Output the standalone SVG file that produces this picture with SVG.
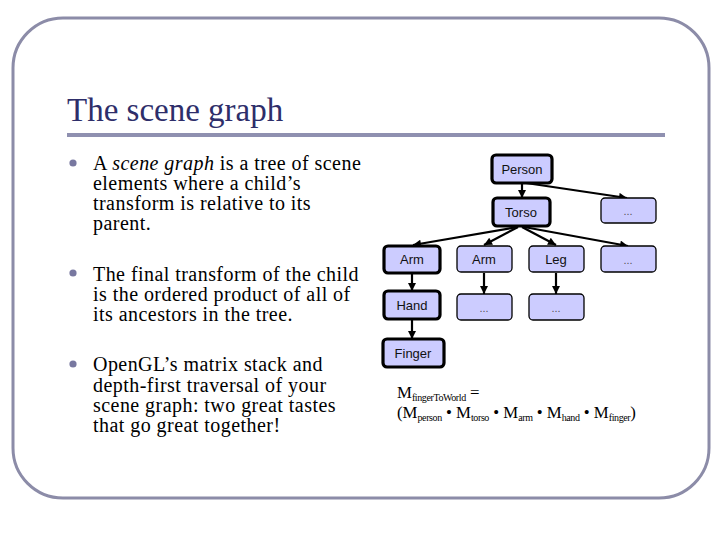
<svg xmlns="http://www.w3.org/2000/svg" width="720" height="540" viewBox="0 0 720 540">
<defs>
<marker id="ah" viewBox="0 0 10 10" refX="10" refY="5" markerWidth="9" markerHeight="8" markerUnits="userSpaceOnUse" orient="auto">
<path d="M0,0 L10,5 L0,10 z" fill="#000"/>
</marker>
<style>
.frame{fill:#fff;stroke:#8c8ca8;stroke-width:3}
.title{font-family:"Liberation Serif",serif;font-size:33px;fill:#2e2e6a}
.body{font-family:"Liberation Serif",serif;font-size:20px;letter-spacing:0.45px;fill:#000}
.dot{fill:#7878a0}
.box{fill:#ccccff;stroke:#000;stroke-width:1.3}
.thick{stroke-width:3.2}
.lbl{font-family:"Liberation Sans",sans-serif;font-size:13px;fill:#111;text-anchor:middle}
.ell{font-family:"Liberation Sans",sans-serif;font-size:11px;fill:#555;text-anchor:middle}
.edge{stroke:#000;stroke-width:2.2;fill:none;marker-end:url(#ah)}
.math{font-family:"Liberation Serif",serif;font-size:16.8px;fill:#000}
.sub{font-size:10px;letter-spacing:-0.4px}
</style>
</defs>
<rect width="720" height="540" fill="#fff"/>
<rect class="frame" x="13" y="18" width="696" height="480" rx="50" ry="50"/>
<text class="title" x="67" y="121">The scene graph</text>
<rect x="67" y="133" width="598" height="4" fill="#8f90b0"/>

<g id="bullets">
<circle class="dot" cx="73" cy="163" r="3.6"/>
<circle class="dot" cx="73" cy="273" r="3.6"/>
<circle class="dot" cx="73" cy="364" r="3.6"/>
<text class="body" x="93" y="170">A <tspan font-style="italic">scene graph</tspan> is a tree of scene</text>
<text class="body" x="93" y="190">elements where a child’s</text>
<text class="body" x="93" y="210">transform is relative to its</text>
<text class="body" x="93" y="230">parent.</text>
<text class="body" x="93" y="281">The final transform of the child</text>
<text class="body" x="93" y="301">is the ordered product of all of</text>
<text class="body" x="93" y="321">its ancestors in the tree.</text>
<text class="body" x="93" y="371">OpenGL’s matrix stack and</text>
<text class="body" x="93" y="392">depth-first traversal of your</text>
<text class="body" x="93" y="412">scene graph: two great tastes</text>
<text class="body" x="93" y="432">that go great together!</text>
</g>

<g id="connectors">
<line class="edge" x1="522" y1="183" x2="522" y2="198"/>
<line class="edge" x1="526" y1="183" x2="627" y2="198"/>
<line class="edge" x1="518" y1="227" x2="413" y2="245"/>
<line class="edge" x1="518" y1="227" x2="484" y2="245"/>
<line class="edge" x1="522" y1="227" x2="556" y2="245"/>
<line class="edge" x1="524" y1="227" x2="628" y2="246"/>
<line class="edge" x1="412" y1="273" x2="412" y2="291"/>
<line class="edge" x1="484" y1="273" x2="484" y2="294"/>
<line class="edge" x1="556" y1="273" x2="556" y2="294"/>
<line class="edge" x1="412" y1="319" x2="412" y2="339"/>
</g>

<g id="person"><rect class="box thick" x="492" y="155" width="60" height="28" rx="4"/><text class="lbl" x="522" y="174">Person</text></g>
<g id="torso"><rect class="box thick" x="493" y="198" width="57" height="28" rx="4"/><text class="lbl" x="521" y="217">Torso</text></g>
<g id="etc1"><rect class="box" x="601" y="198" width="55" height="25" rx="4"/><text class="ell" x="628" y="215">...</text></g>
<g id="arm1"><rect class="box thick" x="384" y="246" width="56" height="27" rx="4"/><text class="lbl" x="412" y="264">Arm</text></g>
<g id="arm2"><rect class="box" x="457" y="246" width="55" height="26" rx="4"/><text class="lbl" x="484" y="264">Arm</text></g>
<g id="leg"><rect class="box" x="529" y="246" width="55" height="26" rx="4"/><text class="lbl" x="556" y="264">Leg</text></g>
<g id="etc2"><rect class="box" x="601" y="246" width="55" height="26" rx="4"/><text class="ell" x="628" y="264">...</text></g>
<g id="hand"><rect class="box thick" x="384" y="291" width="56" height="28" rx="4"/><text class="lbl" x="412" y="310">Hand</text></g>
<g id="etc3"><rect class="box" x="457" y="294" width="55" height="26" rx="4"/><text class="ell" x="484" y="312">...</text></g>
<g id="etc4"><rect class="box" x="529" y="294" width="55" height="26" rx="4"/><text class="ell" x="556" y="312">...</text></g>
<g id="finger"><rect class="box thick" x="383" y="339" width="61" height="28" rx="4"/><text class="lbl" x="413" y="358">Finger</text></g>

<g id="formula">
<text class="math" x="397" y="398">M<tspan class="sub" dy="3">fingerToWorld</tspan><tspan dy="-3"> =</tspan></text>
<text class="math" x="397" y="418">(M<tspan class="sub" dy="3">person</tspan><tspan dy="-3"> • M</tspan><tspan class="sub" dy="3">torso</tspan><tspan dy="-3"> • M</tspan><tspan class="sub" dy="3">arm</tspan><tspan dy="-3"> • M</tspan><tspan class="sub" dy="3">hand</tspan><tspan dy="-3"> • M</tspan><tspan class="sub" dy="3">finger</tspan><tspan dy="-3">)</tspan></text>
</g>
</svg>
